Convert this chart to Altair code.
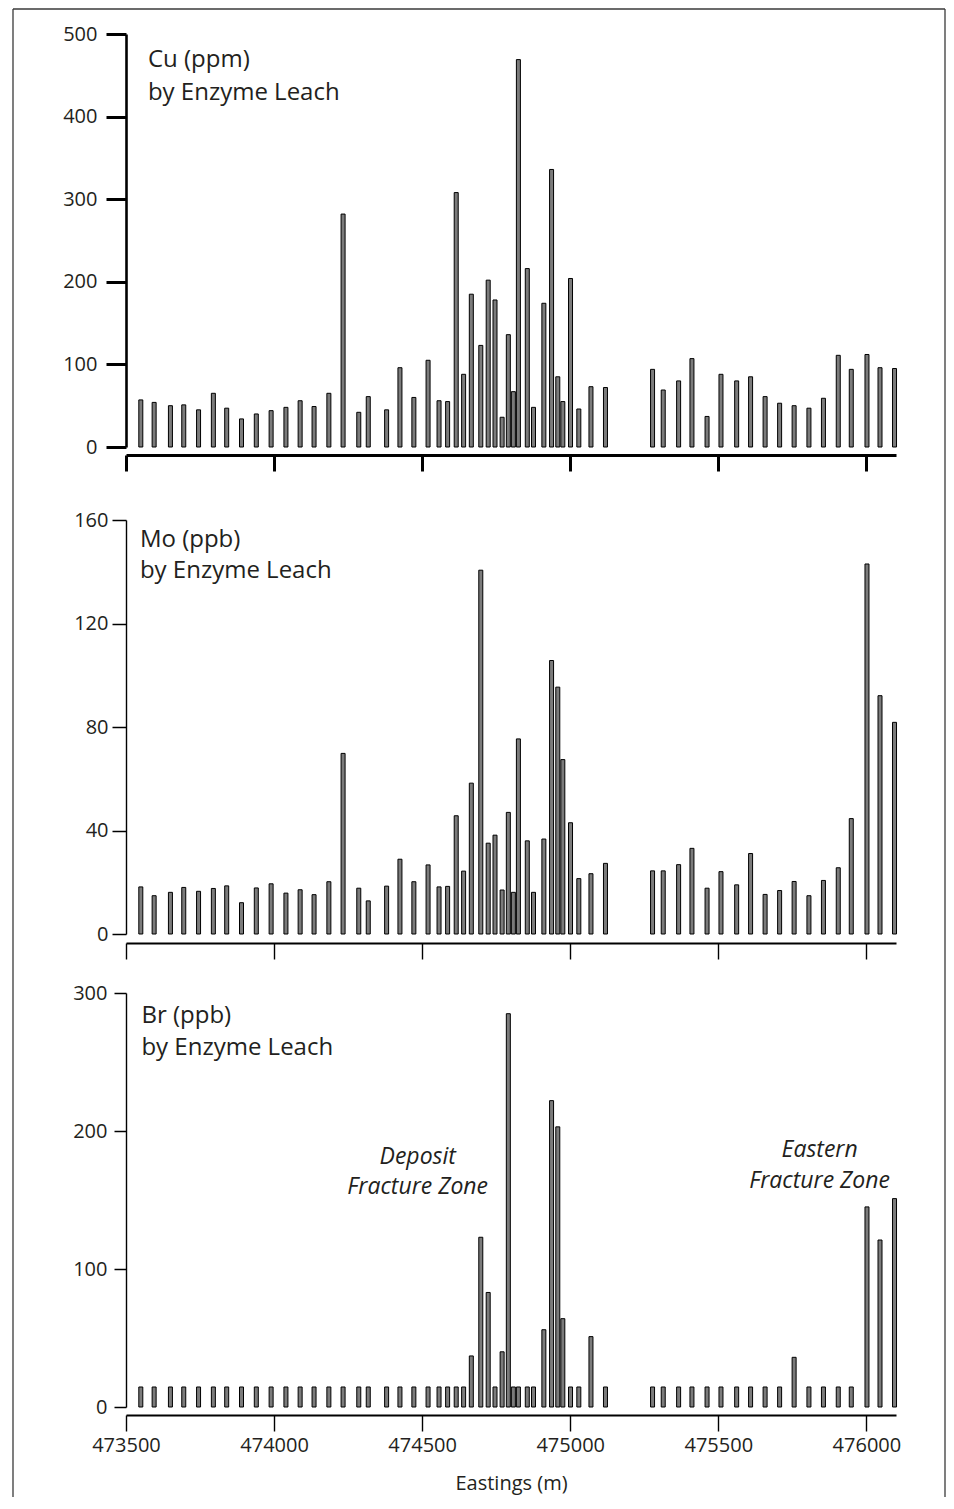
import altair as alt
import pandas as pd

# ---------------- data ----------------
eastings = [473550, 473595, 473650, 473695, 473745, 473795, 473840, 473890, 473940, 473990,
            474040, 474088, 474135, 474185, 474233, 474286, 474318, 474380, 474425, 474472,
            474520, 474557, 474586, 474615, 474640, 474666, 474698, 474723, 474746, 474770,
            474791, 474808, 474825, 474855, 474876, 474911, 474937, 474958, 474975, 475001,
            475029, 475070, 475119, 475278, 475314, 475366, 475411, 475462, 475509, 475562,
            475609, 475658, 475707, 475756, 475806, 475855, 475905, 475949, 476002, 476046,
            476095]

cu_ppm = [57, 54, 50, 51, 45, 65, 47, 34, 40, 44,
          48, 56, 49, 65, 282, 42, 61, 45, 96, 60,
          105, 56, 55, 308, 88, 185, 123, 202, 178, 36,
          136, 67, 469, 216, 48, 174, 336, 85, 55, 204,
          46, 73, 72, 94, 69, 80, 107, 37, 88, 80,
          85, 61, 53, 50, 47, 59, 111, 94, 112, 96,
          95]

mo_ppb = [18.2, 14.8, 16.1, 18.0, 16.5, 17.6, 18.6, 12.1, 17.8, 19.4,
          15.8, 17.1, 15.2, 20.2, 69.8, 17.7, 12.8, 18.5, 28.9, 20.2,
          26.7, 18.2, 18.4, 45.7, 24.3, 58.3, 140.6, 35.1, 38.2, 17.0,
          47.0, 16.1, 75.4, 36.0, 16.1, 36.7, 105.7, 95.4, 67.4, 43.0,
          21.4, 23.3, 27.3, 24.4, 24.4, 26.8, 33.1, 17.7, 24.1, 19.0,
          31.1, 15.3, 16.8, 20.3, 14.8, 20.7, 25.6, 44.6, 143.0, 92.1,
          81.8]

br_ppb = [14.5, 14.5, 14.5, 14.5, 14.5, 14.5, 14.5, 14.5, 14.5, 14.5,
          14.5, 14.5, 14.5, 14.5, 14.5, 14.5, 14.5, 14.5, 14.5, 14.5,
          14.5, 14.5, 14.5, 14.5, 14.5, 37, 123, 83, 14.5, 40,
          285, 14.5, 14.5, 14.5, 14.5, 56, 222, 203, 64, 14.5,
          14.5, 51, 14.5, 14.5, 14.5, 14.5, 14.5, 14.5, 14.5, 14.5,
          14.5, 14.5, 14.5, 36, 14.5, 14.5, 14.5, 14.5, 145, 121,
          151]

x_ticks = [473500, 474000, 474500, 475000, 475500, 476000]
cu_ticks = [0, 100, 200, 300, 400, 500]
mo_ticks = [0, 40, 80, 120, 160]
br_ticks = [0, 100, 200, 300]

# panel labels: text, easting, value
cu_label_text = ["Cu (ppm)", "by Enzyme Leach"]
cu_label_x = [473574, 473574]
cu_label_y = [460, 420]

mo_label_text = ["Mo (ppb)", "by Enzyme Leach"]
mo_label_x = [473547, 473547]
mo_label_y = [149.7, 137.5]

br_label_text = ["Br (ppb)", "by Enzyme Leach"]
br_label_x = [473552, 473552]
br_label_y = [278, 255]

zone_text = ["Deposit", "Fracture Zone", "Eastern", "Fracture Zone"]
zone_x = [474485, 474485, 475842, 475842]
zone_y = [176, 154, 181, 159]

# ---------------- styling ----------------
FONT = "Open Sans"
TXT = "#231f20"
W = 770
X_DOMAIN = [473500, 476100]
xscale = alt.Scale(domain=X_DOMAIN, nice=False, zero=False, padding=0)


def panel(values, ymax, height, xaxis, yaxis, lab_text, lab_x, lab_y, extra=None):
    yscale = alt.Scale(domain=[0, ymax], nice=False, zero=True, padding=0)
    df = pd.DataFrame({"easting": eastings, "value": values})
    bars = alt.Chart(df).mark_bar(size=4, fill="#7b7b7b", stroke="black", strokeWidth=1).encode(
        x=alt.X("easting:Q", scale=xscale, axis=xaxis),
        y=alt.Y("value:Q", scale=yscale, axis=yaxis),
    )
    ldf = pd.DataFrame({"easting": lab_x, "value": lab_y, "label": lab_text})
    labels = alt.Chart(ldf).mark_text(
        align="left", baseline="alphabetic", font=FONT, fontSize=24, color=TXT
    ).encode(
        x=alt.X("easting:Q", scale=xscale),
        y=alt.Y("value:Q", scale=yscale),
        text="label:N",
    )
    layers = [bars, labels]
    if extra is not None:
        layers += extra(yscale)
    return alt.layer(*layers).properties(width=W, height=height)


def frame_layers(yscale):
    one = pd.DataFrame({"k": [0]})
    col, sw = "#3a3a3a", 1.3
    left = alt.Chart(one).mark_rule(color=col, strokeWidth=sw).encode(
        x=alt.value(-113), y=alt.value(-25), y2=alt.value(1463))
    right = alt.Chart(one).mark_rule(color=col, strokeWidth=sw).encode(
        x=alt.value(819), y=alt.value(-25), y2=alt.value(1463))
    top = alt.Chart(one).mark_rule(color=col, strokeWidth=sw).encode(
        x=alt.value(-113), x2=alt.value(819), y=alt.value(-25))
    # invisible margin keeper on the left of the frame
    margin = alt.Chart(one).mark_rule(color="white", strokeWidth=1, opacity=0).encode(
        x=alt.value(-118), y=alt.value(-24), y2=alt.value(-20))
    return [left, right, top, margin]


def zone_layers(yscale):
    zdf = pd.DataFrame({"easting": zone_x, "value": zone_y, "label": zone_text})
    z = alt.Chart(zdf).mark_text(
        align="center", baseline="alphabetic", font=FONT, fontSize=23,
        fontStyle="italic", color=TXT
    ).encode(
        x=alt.X("easting:Q", scale=xscale),
        y=alt.Y("value:Q", scale=yscale),
        text="label:N",
    )
    return [z]


common_y = dict(title=None, grid=False, labelFont=FONT, labelFontSize=20, labelColor=TXT,
                domainColor="black", tickColor="black", labelFlush=False, labelOverlap=False)

# Panel 1: Cu
cu_x = alt.Axis(values=x_ticks, labels=False, title=None, grid=False, offset=8,
                domainWidth=3.2, tickWidth=3, tickSize=16, domainColor="black", tickColor="black")
cu_y = alt.Axis(values=cu_ticks, domainWidth=2.6, tickWidth=3, tickSize=20, labelPadding=9, **common_y)
p1 = panel(cu_ppm, 500, 413, cu_x, cu_y, cu_label_text, cu_label_x, cu_label_y, extra=frame_layers)

# Panel 2: Mo
mo_x = alt.Axis(values=x_ticks, labels=False, title=None, grid=False, offset=9,
                domainWidth=2.2, tickWidth=1.4, tickSize=16, domainColor="black", tickColor="black")
mo_y = alt.Axis(values=mo_ticks, domainWidth=1.4, tickWidth=1.5, tickSize=14, labelPadding=4, **common_y)
p2 = panel(mo_ppb, 160, 414, mo_x, mo_y, mo_label_text, mo_label_x, mo_label_y)

# Panel 3: Br
br_x = alt.Axis(values=x_ticks, format="d", title="Eastings (m)", grid=False, offset=8,
                domainWidth=2.2, tickWidth=1.4, tickSize=16, domainColor="black", tickColor="black",
                labelFont=FONT, labelFontSize=20, labelColor=TXT, labelPadding=4,
                labelFlush=False, labelOverlap=False,
                titleFont=FONT, titleFontSize=20, titleFontWeight="normal", titleColor=TXT,
                titlePadding=18)
br_y = alt.Axis(values=br_ticks, domainWidth=1.4, tickWidth=1.5, tickSize=12, labelPadding=7, **common_y)
p3 = panel(br_ppb, 300, 414, br_x, br_y, br_label_text, br_label_x, br_label_y, extra=zone_layers)


def spacer(h):
    one = pd.DataFrame({"k": [0]})
    return alt.Chart(one).mark_point(opacity=0).encode(
        x=alt.value(0), y=alt.value(0)).properties(width=W, height=h)


chart = alt.vconcat(p1, spacer(73), p2, spacer(59), p3, spacing=0, bounds="flush").properties(
    padding=0
).configure(font=FONT).configure_view(stroke=None)

chart.save("out.html", embed_options={"renderer": "svg", "actions": False})
